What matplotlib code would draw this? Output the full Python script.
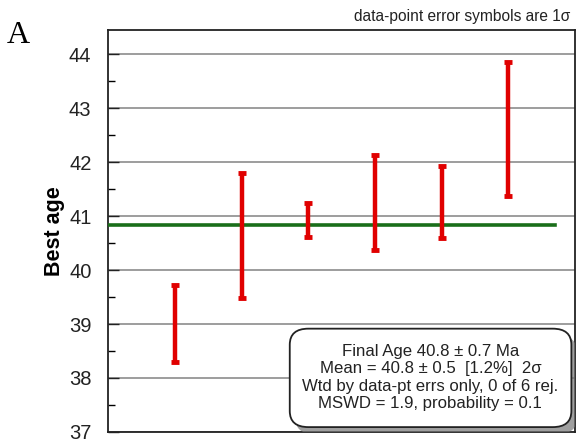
import matplotlib.pyplot as plt
import matplotlib.patheffects as pe
from matplotlib.patches import FancyBboxPatch
from matplotlib.ticker import MultipleLocator

# 1-sigma ranges of the six analyses
sample_idx = [1, 2, 3, 4, 5, 6]
age_low = [38.30, 39.49, 40.62, 40.37, 40.59, 41.38]
age_high = [39.72, 41.80, 41.25, 42.13, 41.93, 43.85]
mean_age = 40.83

box_lines = [
    'Final Age 40.8 \u00b1 0.7 Ma',
    'Mean = 40.8 \u00b1 0.5  [1.2%]  2\u03c3',
    'Wtd by data-pt errs only, 0 of 6 rej.',
    'MSWD = 1.9, probability = 0.1',
]

plt.rcParams['font.family'] = ['Liberation Sans', 'DejaVu Sans']

fig = plt.figure(figsize=(5.78, 4.43), dpi=100)
ax = fig.add_axes([0.187, 0.025, 0.808, 0.907])

centers = [(lo + hi) / 2 for lo, hi in zip(age_low, age_high)]
half = [(hi - lo) / 2 for lo, hi in zip(age_low, age_high)]
ax.errorbar(sample_idx, centers, yerr=half, fmt='none', ecolor='#e00000',
            elinewidth=3.2, capsize=3, capthick=3.5, zorder=4)

ax.plot([0, 6.7], [mean_age, mean_age], color='#1a6e1a', lw=2.6, zorder=3)

ax.set_xlim(0, 7)
ax.set_ylim(37, 44.45)
ax.yaxis.set_minor_locator(MultipleLocator(0.5))
ax.set_yticks([37, 38, 39, 40, 41, 42, 43, 44])
ax.set_xticks([])
ax.tick_params(axis='y', which='major', direction='in', length=8, width=1,
               labelsize=14.5, pad=12, colors='#222222')
ax.tick_params(axis='y', which='minor', direction='in', length=5, width=1)
ax.grid(axis='y', which='major', color='#8c8c8c', lw=1.2, zorder=1)
for s in ax.spines.values():
    s.set_linewidth(1.3)
    s.set_color('#222222')

ax.set_ylabel('Best age', fontsize=15.5, fontweight='bold', labelpad=3)

# statistics box with drop shadow
box = FancyBboxPatch((0.389, 0.012), 0.603, 0.245,
                     boxstyle='round,pad=0,rounding_size=0.04',
                     transform=ax.transAxes, facecolor='white',
                     edgecolor='#222222', lw=1.3, zorder=6)
box.set_path_effects([pe.SimplePatchShadow(offset=(4, -5), shadow_rgbFace='#777777', alpha=0.7),
                      pe.Normal()])
ax.add_patch(box)
ax.text(0.690, 0.135, '\n'.join(box_lines), transform=ax.transAxes,
        ha='center', va='center', fontsize=12.1, linespacing=1.2,
        color='#222222', zorder=7)

fig.text(0.986, 0.962, 'data-point error symbols are 1\u03c3', ha='right',
         va='center', fontsize=11.2, color='#222222')
fig.text(0.012, 0.903, 'A', fontsize=23, family='Liberation Serif',
         ha='left', va='baseline')

fig.savefig('out.png', dpi=100)
